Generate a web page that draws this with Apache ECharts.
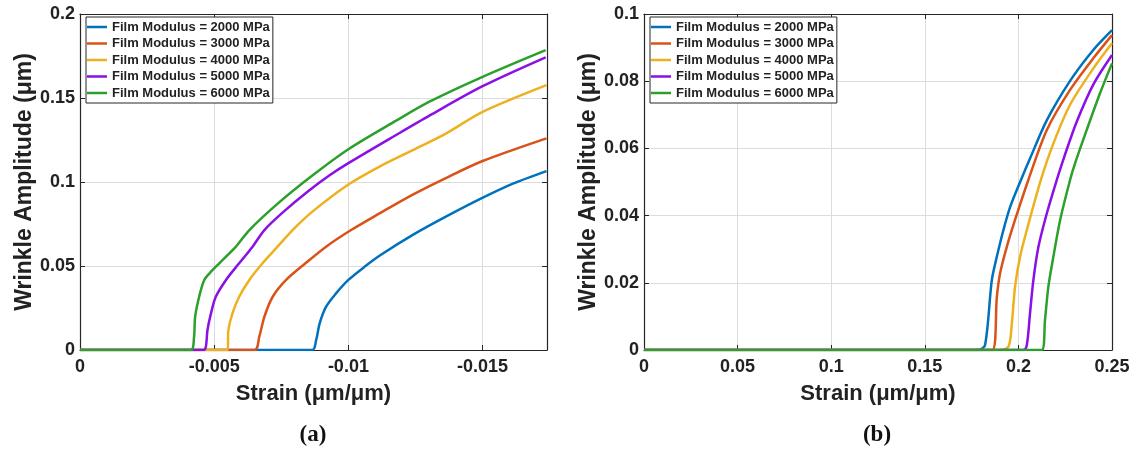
<!DOCTYPE html>
<html>
<head>
<meta charset="utf-8">
<script src="https://cdn.jsdelivr.net/npm/echarts@6/dist/echarts.min.js"></script>
<style>
    html, body { margin: 0; padding: 0; background: #fff; }
    #chart { width: 1135px; height: 450px; }
</style>
</head>
<body>
<div id="chart"></div>
<script>
    // 图例名称 / 颜色
    var seriesNames = ['Film Modulus = 2000 MPa', 'Film Modulus = 3000 MPa', 'Film Modulus = 4000 MPa',
        'Film Modulus = 5000 MPa', 'Film Modulus = 6000 MPa'];
    var seriesColors = ['#0072bd', '#d95319', '#edb120', '#8a10e6', '#2ba02b'];

    // (a) 应变(负值) 与 褶皱幅值
    var aStrain2000 = [0, -0.00865, -0.0088, -0.00893, -0.00917, -0.00954, -0.0100, -0.0106, -0.0112, -0.0124, -0.01365, -0.01499, -0.01613, -0.01738];
    var aAmp2000    = [0, 0, 0.006, 0.0159, 0.0258, 0.0337, 0.0417, 0.0495, 0.0565, 0.0685, 0.0795, 0.0905, 0.0990, 0.1065];
    var aStrain3000 = [0, -0.0065, -0.00668, -0.00687, -0.00718, -0.00768, -0.0084, -0.00917, -0.0101, -0.01116, -0.0124, -0.01365, -0.0150, -0.01738];
    var aAmp3000    = [0, 0, 0.0079, 0.0198, 0.0317, 0.0417, 0.0516, 0.0615, 0.0714, 0.0813, 0.0925, 0.1025, 0.1125, 0.126];
    var aStrain4000 = [0, -0.0055, -0.00553, -0.00568, -0.00593, -0.00631, -0.0068, -0.00736, -0.00792, -0.00867, -0.0100, -0.01116, -0.0124, -0.01365, -0.0150, -0.01738];
    var aAmp4000    = [0, 0, 0.0119, 0.0218, 0.0317, 0.0417, 0.0516, 0.0615, 0.0714, 0.0825, 0.0985, 0.1092, 0.119, 0.129, 0.1418, 0.1577];
    var aStrain5000 = [0, -0.0046, -0.00469, -0.00475, -0.00488, -0.00506, -0.00544, -0.00593, -0.00643, -0.00687, -0.0076, -0.0085, -0.0093, -0.0100, -0.01178, -0.01302, -0.0150, -0.01735];
    var aAmp5000    = [0, 0, 0.002, 0.0119, 0.0218, 0.0317, 0.0417, 0.0516, 0.0615, 0.0714, 0.0825, 0.0945, 0.1040, 0.1112, 0.128, 0.1395, 0.1570, 0.1742];
    var aStrain6000 = [0, -0.00413, -0.00425, -0.00429, -0.00444, -0.00463, -0.00488, -0.00519, -0.00581, -0.00631, -0.00743, -0.00867, -0.0100, -0.01178, -0.01302, -0.0150, -0.01735];
    var aAmp6000    = [0, 0, 0.0079, 0.0198, 0.0317, 0.0417, 0.0466, 0.0516, 0.0615, 0.0714, 0.0880, 0.1040, 0.1195, 0.1365, 0.1478, 0.1626, 0.1785];

    // (b) 应变 与 褶皱幅值
    var bStrain2000 = [0, 0.1787, 0.1822, 0.1858, 0.1885, 0.192, 0.1956, 0.2018, 0.2062, 0.2152, 0.2276, 0.240, 0.25];
    var bAmp2000    = [0, 0, 0.0015, 0.0208, 0.0278, 0.0357, 0.0426, 0.0512, 0.0570, 0.0684, 0.0801, 0.0893, 0.0952];
    var bStrain3000 = [0, 0.1861, 0.1885, 0.1902, 0.1938, 0.1982, 0.2053, 0.2152, 0.2276, 0.240, 0.25];
    var bAmp3000    = [0, 0, 0.0159, 0.0228, 0.0307, 0.0387, 0.0506, 0.0655, 0.0774, 0.0868, 0.0937];
    var bStrain4000 = [0, 0.19, 0.1947, 0.1965, 0.1982, 0.2009, 0.2045, 0.2120, 0.2187, 0.2276, 0.240, 0.25];
    var bAmp4000    = [0, 0, 0.001, 0.0079, 0.0188, 0.0278, 0.0357, 0.0506, 0.0615, 0.0730, 0.0838, 0.0913];
    var bStrain5000 = [0, 0.2027, 0.2045, 0.2062, 0.208, 0.2107, 0.2152, 0.2205, 0.2245, 0.2312, 0.240, 0.25];
    var bAmp5000    = [0, 0, 0.0015, 0.0109, 0.0208, 0.0307, 0.0407, 0.0506, 0.0575, 0.0680, 0.0790, 0.0878];
    var bStrain6000 = [0, 0.2125, 0.2142, 0.216, 0.2187, 0.2223, 0.2276, 0.2303, 0.2365, 0.2436, 0.25];
    var bAmp6000    = [0, 0, 0.0089, 0.0188, 0.0278, 0.0387, 0.0506, 0.0556, 0.0655, 0.0764, 0.0853];

    var aStrain = [aStrain2000, aStrain3000, aStrain4000, aStrain5000, aStrain6000];
    var aAmp = [aAmp2000, aAmp3000, aAmp4000, aAmp5000, aAmp6000];
    var bStrain = [bStrain2000, bStrain3000, bStrain4000, bStrain5000, bStrain6000];
    var bAmp = [bAmp2000, bAmp3000, bAmp4000, bAmp5000, bAmp6000];

    var fontFamily = 'Liberation Sans, Arial, sans-serif';
    var textColor = '#222';

    function zip(xs, ys, flip){
        var out = [];
        for (var i = 0; i < xs.length; i++) {
            out.push([flip ? -xs[i] : xs[i], ys[i]]);
        }
        return out;
    }

    //主坐标轴
    function mainX(gridIndex, max, interval, formatter, showMax){
        return {
            type: 'value', gridIndex: gridIndex, min: 0, max: max, interval: interval,
            name: 'Strain (μm/μm)', nameLocation: 'middle', nameGap: 33,
            nameTextStyle: { fontFamily: fontFamily, fontSize: 22, fontWeight: 'bold', color: textColor },
            axisLine: { show: true, onZero: false, lineStyle: { color: '#262626', width: 1.2 } },
            axisTick: { show: true, inside: true, length: 5, lineStyle: { color: '#262626' } },
            axisLabel: { fontFamily: fontFamily, fontSize: 18, fontWeight: 'bold', color: textColor, margin: 8,
                formatter: formatter, showMaxLabel: showMax },
            splitLine: { show: true, lineStyle: { color: '#dcdcdc', width: 1 } }
        };
    }
    function mainY(gridIndex, max, interval){
        return {
            type: 'value', gridIndex: gridIndex, min: 0, max: max, interval: interval,
            name: 'Wrinkle Amplitude (μm)', nameLocation: 'middle', nameGap: 44,
            nameTextStyle: { fontFamily: fontFamily, fontSize: 23, fontWeight: 'bold', color: textColor },
            axisLine: { show: true, onZero: false, lineStyle: { color: '#262626', width: 1.2 } },
            axisTick: { show: true, inside: true, length: 5, lineStyle: { color: '#262626' } },
            axisLabel: { fontFamily: fontFamily, fontSize: 18, fontWeight: 'bold', color: textColor, margin: 5 },
            splitLine: { show: true, lineStyle: { color: '#dcdcdc', width: 1 } }
        };
    }
    //上/右镜像轴 (只画刻度)
    function mirror(base, position){
        return Object.assign({}, base, {
            name: '', position: position,
            axisLabel: { show: false },
            splitLine: { show: false }
        });
    }

    var xA = mainX(0, 0.0174, 0.005, function(v){ return v === 0 ? '0' : '-' + (+v.toFixed(3)); }, false);
    var yA = mainY(0, 0.2, 0.05);
    var xB = mainX(1, 0.25, 0.05, null, true);
    var yB = mainY(1, 0.1, 0.02);

    var series = [];
    seriesNames.forEach(function(name, i){
        series.push({
            type: 'line', name: name, xAxisIndex: 0, yAxisIndex: 0,
            symbol: 'none', smooth: 0.3,
            lineStyle: { width: 2.5, color: seriesColors[i] },
            itemStyle: { color: seriesColors[i] },
            data: zip(aStrain[i], aAmp[i], true)
        });
        series.push({
            type: 'line', name: name, xAxisIndex: 2, yAxisIndex: 2,
            symbol: 'none', smooth: 0.3,
            lineStyle: { width: 2.5, color: seriesColors[i] },
            itemStyle: { color: seriesColors[i] },
            data: zip(bStrain[i], bAmp[i], false)
        });
    });

    function legendAt(left){
        return {
            data: seriesNames, orient: 'vertical', left: left, top: 17,
            icon: 'rect', itemWidth: 20, itemHeight: 2.5, itemGap: 2.5,
            backgroundColor: '#fff', borderColor: '#262626', borderWidth: 1,
            padding: [3, 3, 3, 1],
            selectedMode: false,
            textStyle: { fontFamily: fontFamily, fontSize: 13, lineHeight: 14, fontWeight: 'bold', color: textColor }
        };
    }

    var chart = echarts.init(document.getElementById('chart'));
    chart.setOption({
        animation: false,
        backgroundColor: '#fff',
        grid: [
            { left: 80, right: 588, top: 14, bottom: 100 },
            { left: 644, right: 23, top: 14, bottom: 100 }
        ],
        xAxis: [xA, mirror(xA, 'top'), xB, mirror(xB, 'top')],
        yAxis: [yA, mirror(yA, 'right'), yB, mirror(yB, 'right')],
        legend: [legendAt(86), legendAt(650)],
        graphic: [
            { type: 'text', x: 313, y: 424, style: { text: '(a)', font: 'bold 23px "Liberation Serif", "Times New Roman", serif', fill: '#111', textAlign: 'center' } },
            { type: 'text', x: 877, y: 424, style: { text: '(b)', font: 'bold 23px "Liberation Serif", "Times New Roman", serif', fill: '#111', textAlign: 'center' } }
        ],
        series: series
    });
</script>
</body>
</html>
